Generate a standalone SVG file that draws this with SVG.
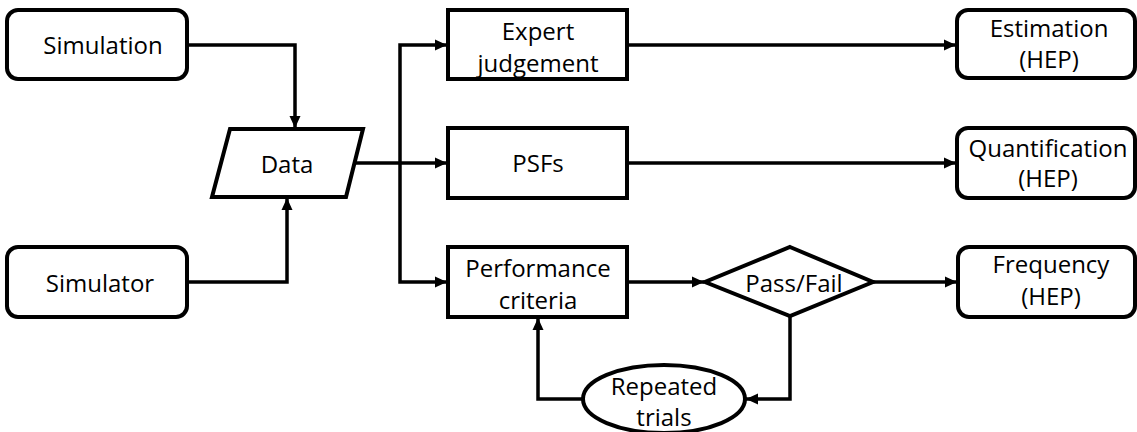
<svg xmlns="http://www.w3.org/2000/svg" width="1137" height="432" viewBox="0 0 1137 432">
<style>
.box{fill:#fff;stroke:#000;stroke-width:4}
.t{font-family:"Open Sans","Liberation Sans",sans-serif;font-size:24px;fill:#000;text-anchor:middle}
.c{fill:none;stroke:#000;stroke-width:3.5;marker-end:url(#ah)}
</style>
<defs>
<marker id="ah" markerUnits="userSpaceOnUse" markerWidth="13" markerHeight="13" refX="12" refY="6.5" orient="auto">
<path d="M0,1 L12,6.5 L0,12 z" fill="#000"/>
</marker>
</defs>
<rect width="1137" height="432" fill="#fff"/>
<g id="connectors">
<path class="c" d="M187,45 H295 V128"/>
<path class="c" d="M187,282 H287 V198"/>
<path class="c" d="M346,163 H447"/>
<path class="c" d="M400,163 V45 H447"/>
<path class="c" d="M400,163 V282 H447"/>
<path class="c" d="M627,45 H956"/>
<path class="c" d="M627,163 H956"/>
<path class="c" d="M627,282 H704"/>
<path class="c" d="M873,282 H957"/>
<path class="c" d="M790,316 V399 H746"/>
<path class="c" d="M583,399 H538 V318"/>
</g>
<g id="simulation">
<rect class="box" x="7" y="10" width="180" height="69" rx="11"/>
<text class="t" x="103" y="54">Simulation</text>
</g>
<g id="simulator">
<rect class="box" x="7" y="247" width="180" height="70" rx="11"/>
<text class="t" x="100" y="292">Simulator</text>
</g>
<g id="data">
<polygon class="box" points="230,129 363,129 346,197 212,197"/>
<text class="t" x="287" y="173">Data</text>
</g>
<g id="expert">
<rect class="box" x="448" y="10" width="179" height="69"/>
<text class="t" x="538" y="40">Expert</text>
<text class="t" x="538" y="72">judgement</text>
</g>
<g id="psfs">
<rect class="box" x="448" y="128" width="179" height="70"/>
<text class="t" x="538" y="172">PSFs</text>
</g>
<g id="performance">
<rect class="box" x="448" y="247" width="179" height="70"/>
<text class="t" x="538" y="277">Performance</text>
<text class="t" x="538" y="309">criteria</text>
</g>
<g id="passfail">
<polygon class="box" points="790,247 873,282 790,316 705,282"/>
<text class="t" x="794" y="292">Pass/Fail</text>
</g>
<g id="repeated">
<ellipse class="box" cx="664" cy="399" rx="81" ry="34"/>
<text class="t" x="664" y="395">Repeated</text>
<text class="t" x="664" y="426">trials</text>
</g>
<g id="estimation">
<rect class="box" x="957" y="10" width="178" height="68" rx="11"/>
<text class="t" x="1049" y="37">Estimation</text>
<text class="t" x="1049" y="68">(HEP)</text>
</g>
<g id="quantification">
<rect class="box" x="957" y="128" width="178" height="70" rx="11"/>
<text class="t" x="1048" y="157">Quantification</text>
<text class="t" x="1048" y="187">(HEP)</text>
</g>
<g id="frequency">
<rect class="box" x="958" y="247" width="177" height="70" rx="11"/>
<text class="t" x="1051" y="273">Frequency</text>
<text class="t" x="1051" y="305">(HEP)</text>
</g>
</svg>
